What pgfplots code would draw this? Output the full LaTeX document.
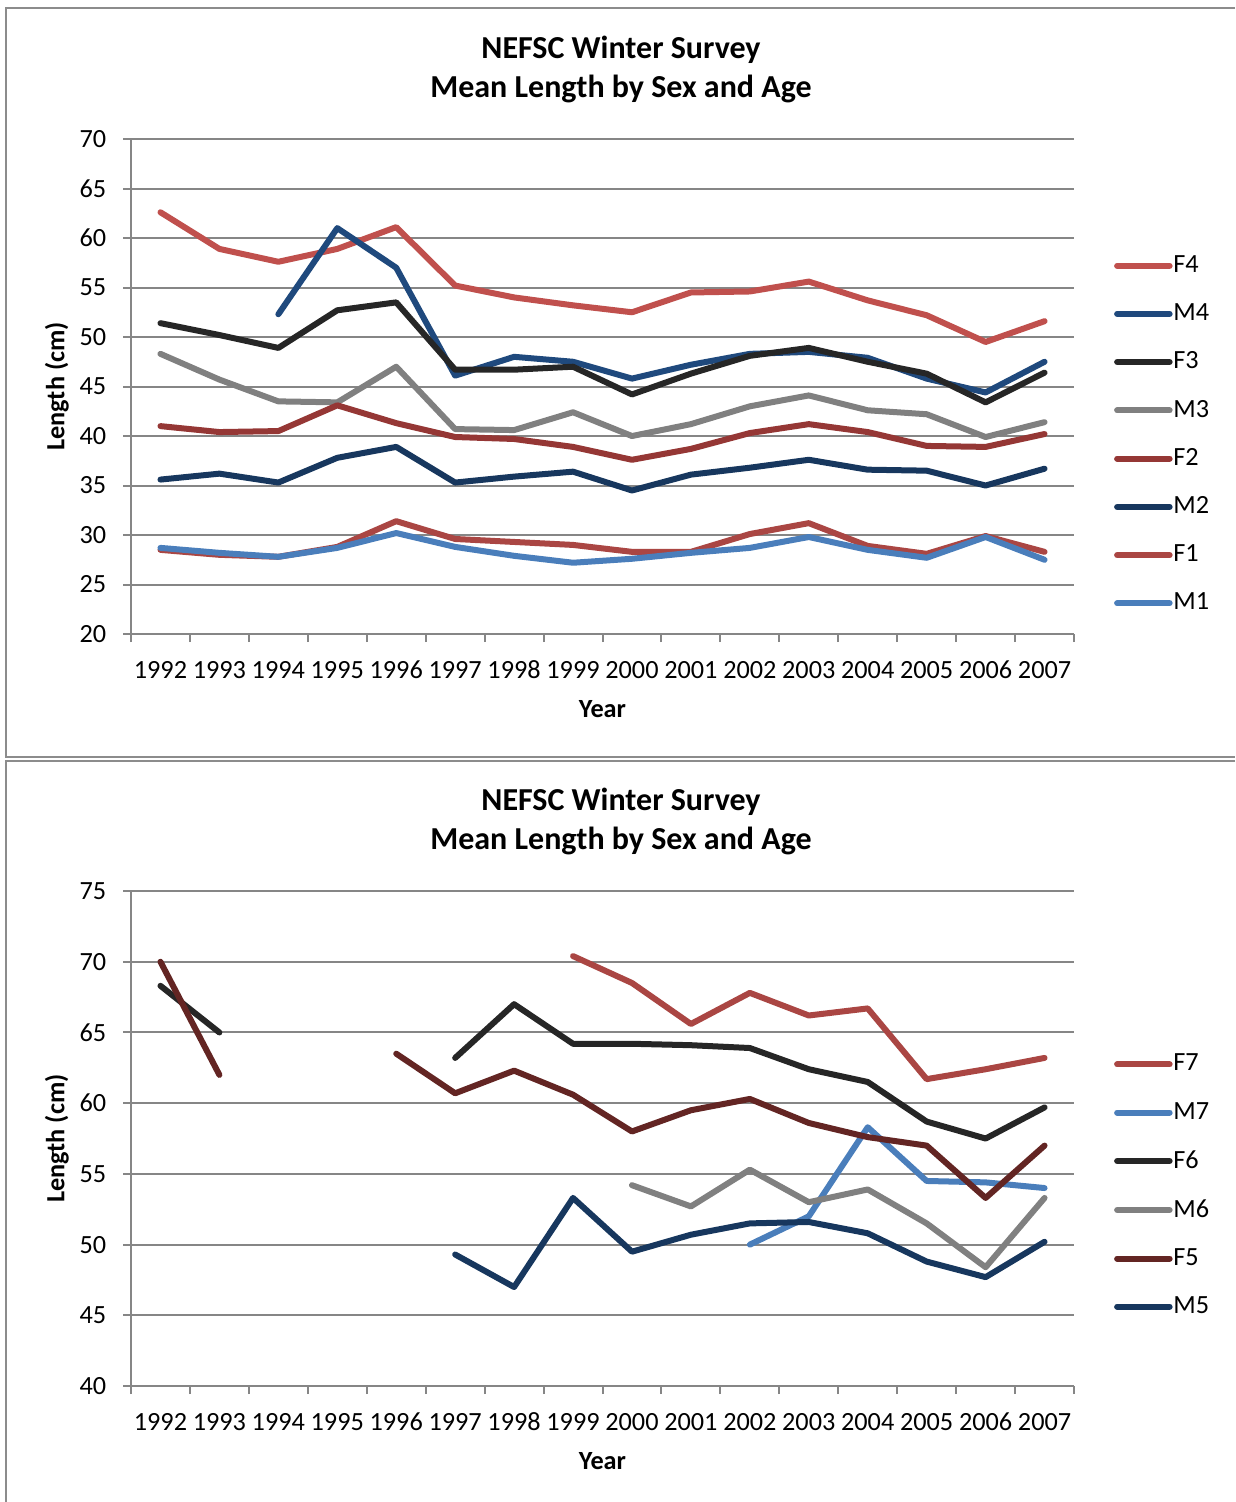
\documentclass[border=0pt]{standalone}
\usepackage{fontspec}
\setmainfont{Carlito}
\usepackage{pgfplots}
\pgfplotsset{compat=1.18}

\definecolor{axisgray}{HTML}{868686}
\definecolor{framegray}{HTML}{8C8C8C}
\definecolor{cF4}{HTML}{C0504D}
\definecolor{cM4}{HTML}{1F497D}
\definecolor{cF3}{HTML}{262626}
\definecolor{cM3}{HTML}{808080}
\definecolor{cF2}{HTML}{953735}
\definecolor{cM2}{HTML}{17375E}
\definecolor{cF1}{HTML}{AA4643}
\definecolor{cM1}{HTML}{4A7EBB}
\definecolor{cF5}{HTML}{632523}

\pgfplotsset{
  nefsc/.style={
    scale only axis, width=377.2pt, height=198pt,
    anchor=south west,
    xmin=-0.5, xmax=15.5,
    axis lines=left,
    axis line style={-, axisgray, line width=0.8pt},
    tick style={axisgray, line width=0.8pt},
    tick align=outside,
    major tick length=3.2pt, minor tick length=3.2pt,
    xtick={0,...,15},
    xticklabels={1992,1993,1994,1995,1996,1997,1998,1999,2000,2001,2002,2003,2004,2005,2006,2007},
    minor xtick={-0.5,0.5,...,15.5},
    major x tick style={draw=none},
    ymajorgrids,
    grid style={axisgray, line width=0.8pt},
    /pgf/number format/assume math mode=true,
    tick label style={font=\fontsize{10.5}{12}\selectfont},
    xticklabel style={text height=7pt, text depth=0pt, yshift=-4pt},
    yticklabel style={xshift=-3.2pt},
    title={NEFSC Winter Survey\\Mean Length by Sex and Age},
    title style={font=\bfseries\fontsize{12.8}{15.6}\selectfont, align=center, inner sep=0pt,
      anchor=south, at={(axis description cs:0.5196,1)}, yshift=8.4pt},
    xlabel={Year},
    xlabel style={font=\bfseries\fontsize{10.5}{12}\selectfont, at={(axis description cs:0.5,0)}, anchor=center, yshift=-30pt},
    ylabel={Length (cm)},
    ylabel style={font=\bfseries\fontsize{10.5}{12}\selectfont, at={(axis description cs:-0.0785,0.5)}, anchor=center},
    legend cell align=left,
    legend style={draw=none, fill=none, anchor=west, inner sep=0pt,
      font=\fontsize{10.5}{12}\selectfont, row sep=9pt,
      nodes={inner ysep=1pt, inner xsep=0.3pt}},
    legend image code/.code={\draw[#1, line cap=round] (0pt,0pt) -- (21pt,0pt);},
    every axis plot/.append style={line width=2.4pt, line cap=round, line join=round, mark=none},
    unbounded coords=jump,
  }
}

\begin{document}
\begin{tikzpicture}
\begin{scope}[x=0.4pt,y=-0.4pt]
  \useasboundingbox (0,0) rectangle (1235,1502);
  \draw[framegray, line width=0.8pt] (1235,8) -- (6,8) -- (6,757) -- (1235,757);
  \draw[framegray, line width=0.8pt] (1235,761) -- (6,761) -- (6,1502);
\end{scope}

\begin{axis}[nefsc, at={(52.4pt,-253.6pt)},
    ymin=20, ymax=70, ytick={20,25,...,70},
    legend style={at={(axis description cs:1.042,0.403)}}]
\addplot[cF4] coordinates {(0,62.6) (1,58.9) (2,57.6) (3,58.9) (4,61.1) (5,55.2) (6,54.0) (7,53.2) (8,52.5) (9,54.5) (10,54.6) (11,55.6) (12,53.7) (13,52.2) (14,49.5) (15,51.6)};
\addlegendentry{F4}
\addplot[cM4] coordinates {(2,52.3) (3,61.0) (4,57.0) (5,46.1) (6,48.0) (7,47.5) (8,45.8) (9,47.2) (10,48.3) (11,48.5) (12,47.9) (13,45.8) (14,44.4) (15,47.5)};
\addlegendentry{M4}
\addplot[cF3] coordinates {(0,51.4) (1,50.2) (2,48.9) (3,52.7) (4,53.5) (5,46.7) (6,46.7) (7,47.0) (8,44.2) (9,46.3) (10,48.1) (11,48.9) (12,47.5) (13,46.3) (14,43.4) (15,46.4)};
\addlegendentry{F3}
\addplot[cM3] coordinates {(0,48.3) (1,45.7) (2,43.5) (3,43.4) (4,47.0) (5,40.7) (6,40.6) (7,42.4) (8,40.0) (9,41.2) (10,43.0) (11,44.1) (12,42.6) (13,42.2) (14,39.9) (15,41.4)};
\addlegendentry{M3}
\addplot[cF2] coordinates {(0,41.0) (1,40.4) (2,40.5) (3,43.1) (4,41.3) (5,39.9) (6,39.7) (7,38.9) (8,37.6) (9,38.7) (10,40.3) (11,41.2) (12,40.4) (13,39.0) (14,38.9) (15,40.2)};
\addlegendentry{F2}
\addplot[cM2] coordinates {(0,35.6) (1,36.2) (2,35.3) (3,37.8) (4,38.9) (5,35.3) (6,35.9) (7,36.4) (8,34.5) (9,36.1) (10,36.8) (11,37.6) (12,36.6) (13,36.5) (14,35.0) (15,36.7)};
\addlegendentry{M2}
\addplot[cF1] coordinates {(0,28.5) (1,28.0) (2,27.8) (3,28.8) (4,31.4) (5,29.6) (6,29.3) (7,29.0) (8,28.3) (9,28.3) (10,30.1) (11,31.2) (12,28.9) (13,28.1) (14,29.9) (15,28.3)};
\addlegendentry{F1}
\addplot[cM1] coordinates {(0,28.7) (1,28.2) (2,27.8) (3,28.7) (4,30.2) (5,28.8) (6,27.9) (7,27.2) (8,27.6) (9,28.2) (10,28.7) (11,29.8) (12,28.5) (13,27.7) (14,29.8) (15,27.5)};
\addlegendentry{M1}
\end{axis}

\begin{axis}[nefsc, at={(52.4pt,-554.4pt)},
    ymin=40, ymax=75, ytick={40,45,...,75},
    legend style={at={(axis description cs:1.042,0.405)}}]
\addplot[cF1] coordinates {(7,70.4) (8,68.5) (9,65.6) (10,67.8) (11,66.2) (12,66.7) (13,61.7) (14,62.4) (15,63.2)};
\addlegendentry{F7}
\addplot[cM1] coordinates {(10,50.0) (11,52.0) (12,58.3) (13,54.5) (14,54.4) (15,54.0)};
\addlegendentry{M7}
\addplot[cF3] coordinates {(0,68.3) (1,65.0) (2,nan) (5,63.2) (6,67.0) (7,64.2) (8,64.2) (9,64.1) (10,63.9) (11,62.4) (12,61.5) (13,58.7) (14,57.5) (15,59.7)};
\addlegendentry{F6}
\addplot[cM3] coordinates {(8,54.2) (9,52.7) (10,55.3) (11,53.0) (12,53.9) (13,51.5) (14,48.4) (15,53.3)};
\addlegendentry{M6}
\addplot[cF5] coordinates {(0,70.0) (1,62.0) (2,nan) (4,63.5) (5,60.7) (6,62.3) (7,60.6) (8,58.0) (9,59.5) (10,60.3) (11,58.6) (12,57.6) (13,57.0) (14,53.3) (15,57.0)};
\addlegendentry{F5}
\addplot[cM2] coordinates {(5,49.3) (6,47.0) (7,53.3) (8,49.5) (9,50.7) (10,51.5) (11,51.6) (12,50.8) (13,48.8) (14,47.7) (15,50.2)};
\addlegendentry{M5}
\end{axis}
\end{tikzpicture}
\end{document}
